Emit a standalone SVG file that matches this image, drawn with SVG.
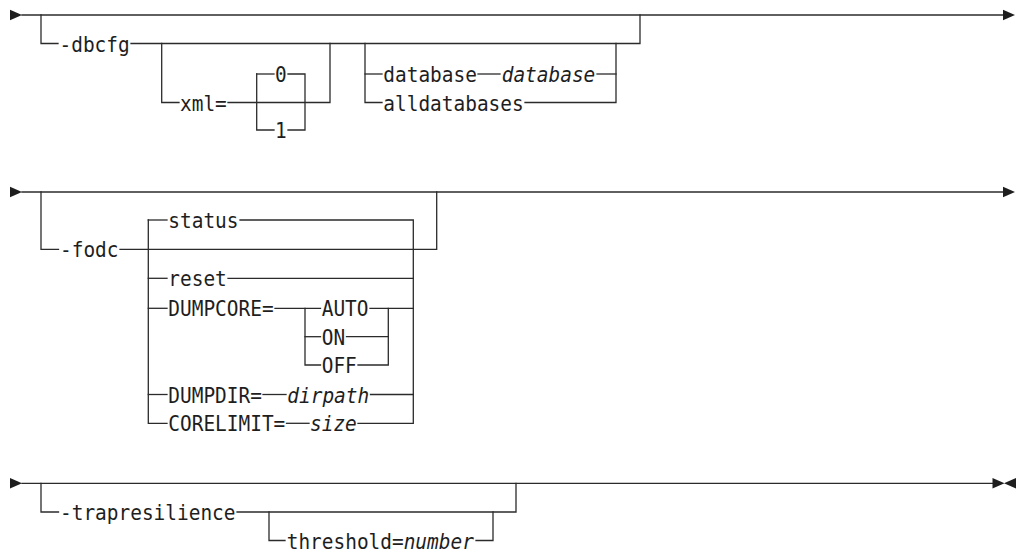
<svg xmlns="http://www.w3.org/2000/svg" width="1018" height="553" viewBox="0 0 1018 553">
<style>
.ln{fill:none;stroke:#2b2b2b;stroke-width:1.3;stroke-linecap:square}
.t{font-family:"DejaVu Sans Mono","Liberation Mono",monospace;font-size:21.5px;fill:#1e1e1e}
.i{font-style:italic}
.mk{fill:#1e1e1e}
</style>
<defs>
<path id="arrR" d="M0,-5.3 L12,0 L0,5.3 Z"/>
<path id="arrL" d="M0,0 L12,-5.3 L12,5.3 Z"/>
</defs>
<rect width="1018" height="553" fill="#fff"/>
<g id="connectors">
<!-- Row 1 -->
<path class="ln" d="M22,15 H1003"/>
<path class="ln" d="M41,15 V43.5 H58"/>
<path class="ln" d="M131,43.5 H640 V15"/>
<path class="ln" d="M161.7,43.5 V102.5 H179"/>
<path class="ln" d="M228,102.5 H330 V43.5"/>
<path class="ln" d="M256.7,74 V130 H274"/>
<path class="ln" d="M256.7,74 H274"/>
<path class="ln" d="M288,74 H305 V130 H288"/>
<path class="ln" d="M365,43.5 V102.5 H382"/>
<path class="ln" d="M365,74 H382"/>
<path class="ln" d="M478,74 H500"/>
<path class="ln" d="M597,74 H616"/>
<path class="ln" d="M525,102.5 H616 V43.5"/>
<!-- Row 2 -->
<path class="ln" d="M22,192 H1003"/>
<path class="ln" d="M41,192 V249.3 H58.5"/>
<path class="ln" d="M120,249.3 H436.7 V192"/>
<path class="ln" d="M148.3,220 V423.3 H167"/>
<path class="ln" d="M148.3,220 H167"/>
<path class="ln" d="M240,220 H413.3 V423.3 H358"/>
<path class="ln" d="M148.3,278.3 H167"/>
<path class="ln" d="M228,278.3 H413.3"/>
<path class="ln" d="M148.3,308.3 H167"/>
<path class="ln" d="M275,308.3 H320.5"/>
<path class="ln" d="M370,308.3 H413.3"/>
<path class="ln" d="M305,308.3 V365 H320.5"/>
<path class="ln" d="M305,336.7 H320.5"/>
<path class="ln" d="M346.5,336.7 H388.3"/>
<path class="ln" d="M358,365 H388.3 V308.3"/>
<path class="ln" d="M148.3,394.5 H167"/>
<path class="ln" d="M263,394.5 H286"/>
<path class="ln" d="M370.5,394.5 H413.3"/>
<path class="ln" d="M286.5,423.3 H309"/>
<!-- Row 3 -->
<path class="ln" d="M22,483.3 H993"/>
<path class="ln" d="M41,483.3 V512 H58.5"/>
<path class="ln" d="M237,512 H516 V483.3"/>
<path class="ln" d="M269,512 V540.5 H285"/>
<path class="ln" d="M476,540.5 H493 V512"/>
</g>
<g id="row1-start"><use href="#arrR" class="mk" x="10" y="15"/></g>
<g id="row1-end"><use href="#arrR" class="mk" x="1003" y="15"/></g>
<g id="opt-dbcfg"><text class="t" x="59.5" y="51.5" textLength="70.2" lengthAdjust="spacingAndGlyphs">-dbcfg</text></g>
<g id="opt-xml"><text class="t" x="180" y="110.5" textLength="46.8" lengthAdjust="spacingAndGlyphs">xml=</text></g>
<g id="xml-0"><text class="t" x="275" y="82" textLength="11.7" lengthAdjust="spacingAndGlyphs">0</text></g>
<g id="xml-1"><text class="t" x="275" y="138" textLength="11.7" lengthAdjust="spacingAndGlyphs">1</text></g>
<g id="opt-database"><text class="t" x="383.3" y="82" textLength="93.6" lengthAdjust="spacingAndGlyphs">database</text><text class="t i" x="501.7" y="82" textLength="93.6" lengthAdjust="spacingAndGlyphs">database</text></g>
<g id="opt-alldatabases"><text class="t" x="383.3" y="110.5" textLength="140.4" lengthAdjust="spacingAndGlyphs">alldatabases</text></g>
<g id="row2-start"><use href="#arrR" class="mk" x="10" y="192"/></g>
<g id="row2-end"><use href="#arrR" class="mk" x="1003" y="192"/></g>
<g id="opt-fodc"><text class="t" x="60" y="257.3" textLength="58.5" lengthAdjust="spacingAndGlyphs">-fodc</text></g>
<g id="fodc-status"><text class="t" x="168.3" y="228" textLength="70.2" lengthAdjust="spacingAndGlyphs">status</text></g>
<g id="fodc-reset"><text class="t" x="168.3" y="286.3" textLength="58.5" lengthAdjust="spacingAndGlyphs">reset</text></g>
<g id="fodc-dumpcore"><text class="t" x="168.3" y="316.3" textLength="105.3" lengthAdjust="spacingAndGlyphs">DUMPCORE=</text></g>
<g id="dumpcore-auto"><text class="t" x="321.7" y="316.3" textLength="46.8" lengthAdjust="spacingAndGlyphs">AUTO</text></g>
<g id="dumpcore-on"><text class="t" x="321.7" y="344.7" textLength="23.4" lengthAdjust="spacingAndGlyphs">ON</text></g>
<g id="dumpcore-off"><text class="t" x="321.7" y="373" textLength="35.1" lengthAdjust="spacingAndGlyphs">OFF</text></g>
<g id="fodc-dumpdir"><text class="t" x="168.3" y="402.5" textLength="93.6" lengthAdjust="spacingAndGlyphs">DUMPDIR=</text><text class="t i" x="287.3" y="402.5" textLength="81.9" lengthAdjust="spacingAndGlyphs">dirpath</text></g>
<g id="fodc-corelimit"><text class="t" x="168.3" y="431.3" textLength="117" lengthAdjust="spacingAndGlyphs">CORELIMIT=</text><text class="t i" x="310" y="431.3" textLength="46.8" lengthAdjust="spacingAndGlyphs">size</text></g>
<g id="row3-start"><use href="#arrR" class="mk" x="10" y="483.3"/></g>
<g id="row3-end"><use href="#arrR" class="mk" x="992.5" y="483.3"/><use href="#arrL" class="mk" x="1004" y="483.3"/></g>
<g id="opt-trapresilience"><text class="t" x="60" y="520" textLength="175.5" lengthAdjust="spacingAndGlyphs">-trapresilience</text></g>
<g id="opt-threshold"><text class="t" transform="translate(286.7,548.5) scale(0.904,1)" x="0" y="0">threshold=<tspan class="i">number</tspan></text></g>
</svg>
